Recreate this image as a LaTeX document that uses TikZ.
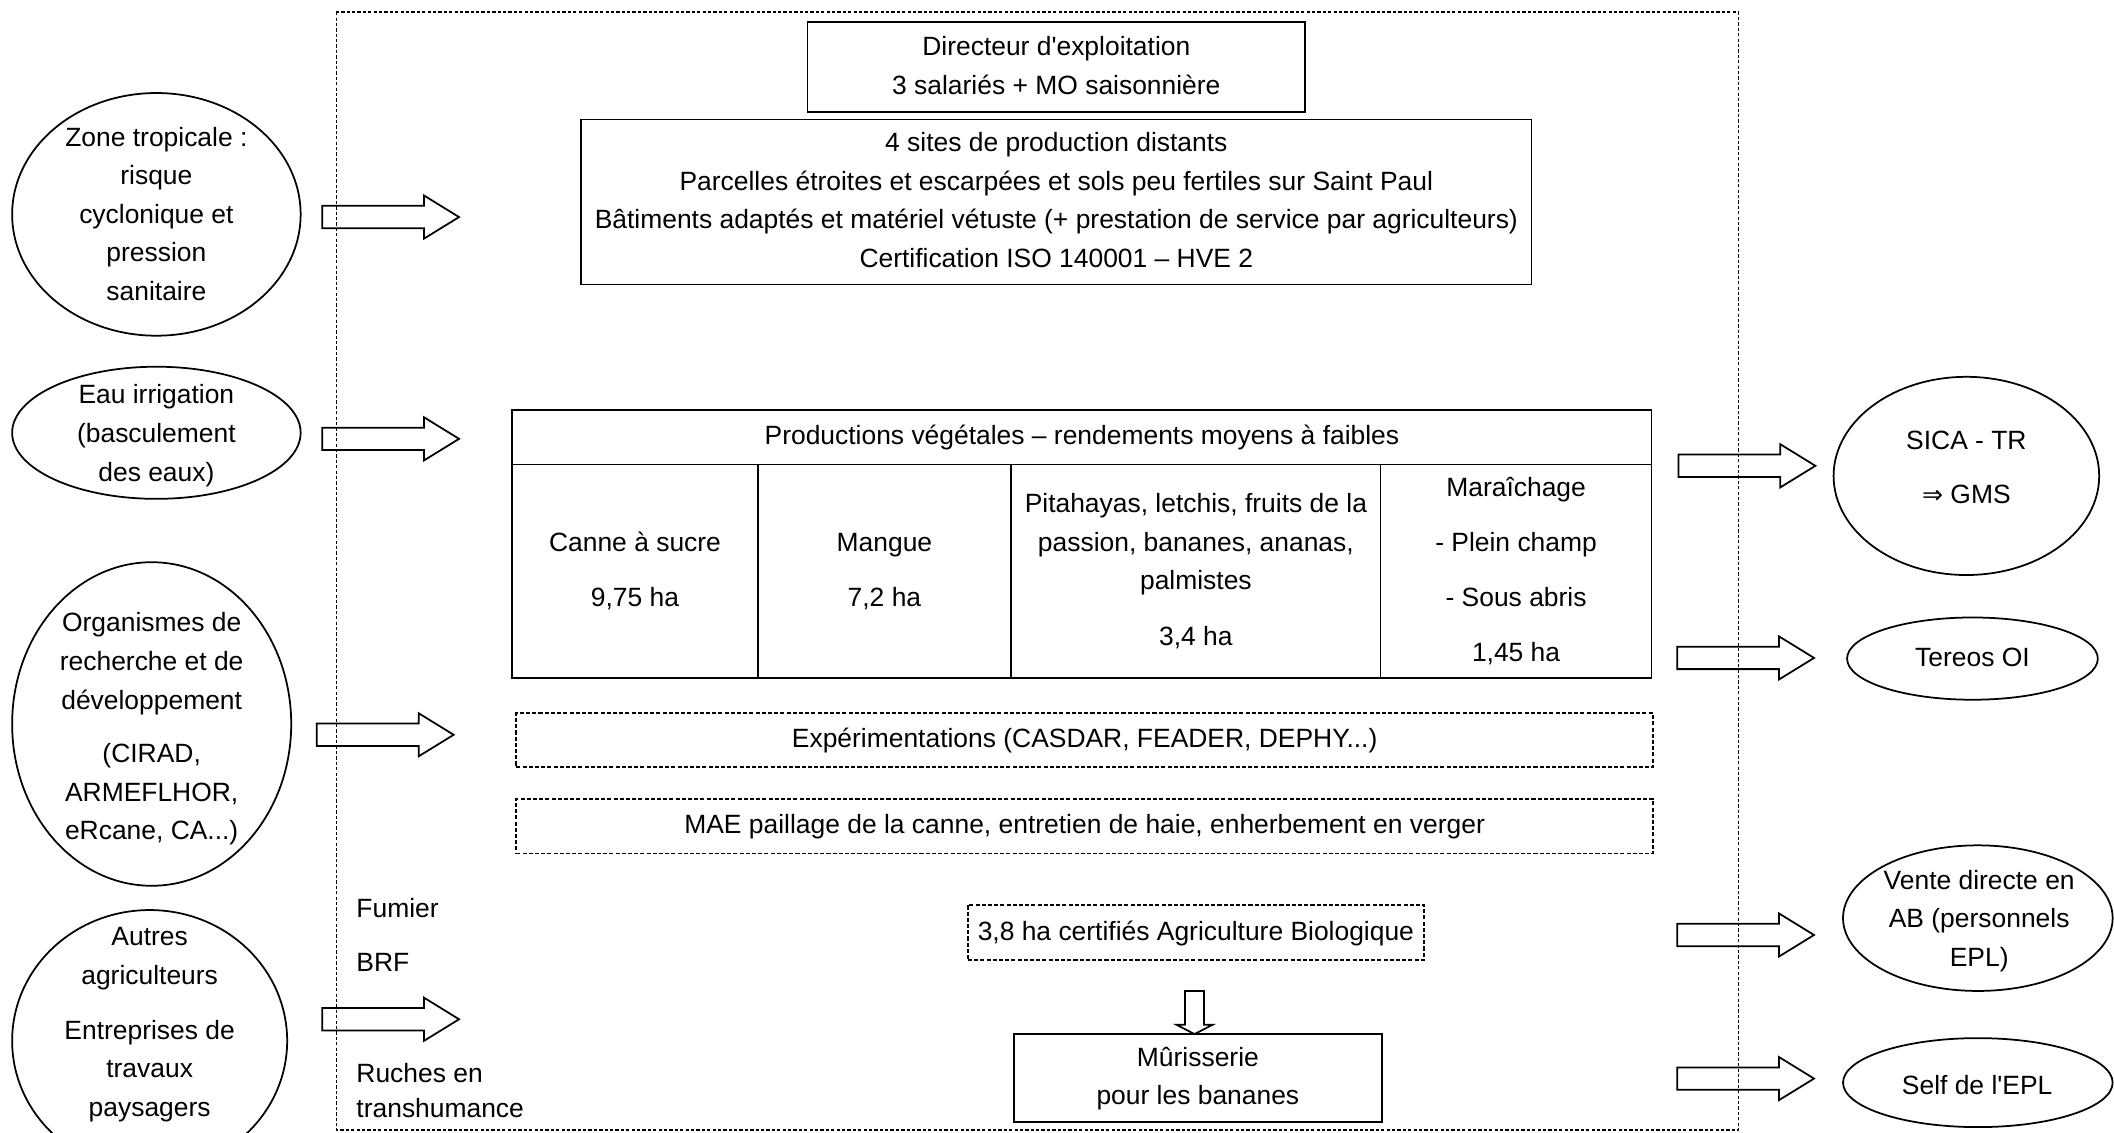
\documentclass[tikz,border=0pt]{standalone}
\usepackage{fontspec}
\setmainfont{Liberation Sans}
\newfontfamily\symfont{DejaVu Sans}[Scale=0.95]
\usetikzlibrary{shapes.geometric}
\newcommand\myfont{\fontsize{9.8}{14.3}\selectfont}
\tikzset{
  sz/.style 2 args={minimum width=#1*0.5pt, minimum height=#2*0.5pt},
  box/.style={draw, line width=0.65pt, rectangle, inner sep=0pt, align=center, font=\myfont},
  dbox/.style={box, dash pattern=on 1.5pt off 0.8pt},
  ell/.style={draw, ellipse, line width=0.65pt, inner sep=0pt},
  txt/.style={inner sep=0pt, align=center, font=\myfont},
  ltxt/.style={inner sep=0pt, anchor=west, font=\myfont},
  frame/.style={line width=0.55pt, dash pattern=on 1.2pt off 0.8pt},
  barrow/.pic={\draw[line width=0.65pt] (0,-8.3) -- (75.5,-8.3) -- (75.5,-16) -- (101.5,0) -- (75.5,16) -- (75.5,8.3) -- (0,8.3) -- cycle;},
  darrow/.pic={\draw[line width=0.65pt] (-7,0) -- (7,0) -- (7,25) -- (13.5,25) -- (0,32) -- (-13.5,25) -- (-7,25) -- cycle;}
}
\begin{document}
\begin{tikzpicture}[x=0.5pt,y=-0.5pt]
\useasboundingbox (0,0) rectangle (1568,840);
\clip (0,0) rectangle (1568,840);
\fill[white] (0,0) rectangle (1568,840);

% outer frame
\draw[frame] (249.5,9) rectangle (1289.5,838);

% top boxes
\node[box, sz={369}{66.5}] (dir) at (783.5,49.75)
  {\strut Directeur d\textquotesingle exploitation\\ 3 salariés + MO saisonnière\strut};
\node[box, sz={705}{122.4}] (sites) at (783.5,149.8)
  {\strut 4 sites de production distants\\
   Parcelles étroites et escarpées et sols peu fertiles sur Saint Paul\\
   Bâtiments adaptés et matériel vétuste (+ prestation de service par agriculteurs)\\
   Certification ISO 140001 – HVE 2\strut};

% table
\node[box, sz={845}{40.5}] (head) at (802.5,324.25)
  {\strut Productions végétales – rendements moyens à faibles\strut};
\node[box, sz={182}{158.5}] (c1) at (471,423.75)
  {\strut Canne à sucre\\[5.9pt] 9,75 ha\strut};
\node[box, sz={188}{158.5}] (c2) at (656,423.75)
  {\strut Mangue\\[5.9pt] 7,2 ha\strut};
\node[box, sz={274}{158.5}] (c3) at (887,423.75)
  {\strut Pitahayas, letchis, fruits de la\\ passion, bananes, ananas,\\ palmistes\\[6.4pt] 3,4 ha\strut};
\node[box, sz={201}{158.5}] (c4) at (1124.5,423.75)
  {\strut Maraîchage\\[6pt] - Plein champ\\[6pt] - Sous abris\\[6pt] 1,45 ha\strut};

% dashed boxes
\node[dbox, sz={843}{40}] (exp) at (804.5,549)
  {\strut Expérimentations (CASDAR, FEADER, DEPHY...)\strut};
\node[dbox, sz={843}{40.5}] (mae) at (804.5,612.75)
  {\strut MAE paillage de la canne, entretien de haie, enherbement en verger\strut};
\node[dbox, sz={338}{41}] (bio) at (887,691.5)
  {\strut 3,8 ha certifiés Agriculture Biologique\strut};
\node[box, sz={273}{65}] (mur) at (888.5,799.5)
  {\strut Mûrisserie\\ pour les bananes\strut};
\pic at (886,735) {darrow};

% left inputs text
\node[ltxt] (fum) at (264,675) {\strut Fumier};
\node[ltxt] (brf) at (264,714.6) {\strut BRF};
\node[ltxt] (ruc) at (264,797.5) {\strut Ruches en};
\node[ltxt] (tra) at (264,823) {\strut transhumance};

% left ellipses
\node[ell, sz={214}{180}] (zone) at (116,159) {};
\node[txt] (zonet) at (116,160)
  {\strut Zone tropicale :\\ risque\\ cyclonique et\\ pression\\ sanitaire\strut};
\node[ell, sz={214}{98}] (eau) at (116,321) {};
\node[txt] (eaut) at (116,322.5)
  {\strut Eau irrigation\\ (basculement\\ des eaux)\strut};
\node[ell, sz={207}{240}] (org) at (112.5,537) {};
\node[txt] (orgt) at (112.5,540)
  {\strut Organismes de\\ recherche et de\\ développement\\[5.5pt] (CIRAD,\\ ARMEFLHOR,\\ eRcane, CA...)\strut};
\node[ell, sz={204}{194}] (autres) at (111,772) {};
\node[txt] (autrest) at (111,759)
  {\strut Autres\\ agriculteurs\\[6pt] Entreprises de\\ travaux\\ paysagers\strut};

% left block arrows
\pic at (239,161) {barrow};
\pic at (239,325.5) {barrow};
\pic at (235,545) {barrow};
\pic at (239,756) {barrow};

% right ellipses
\node[ell, sz={197}{147}] (sica) at (1458.5,353) {};
\node[txt] (sicat) at (1458.5,347.5)
  {\strut SICA - TR\\[5.6pt] {\symfont ⇒} GMS\strut};
\node[ell, sz={186}{61}] (tereos) at (1463,488.5) {};
\node[txt] (tereost) at (1463,489) {\strut Tereos OI\strut};
\node[ell, sz={200}{108}] (vente) at (1467,681) {};
\node[txt] (ventet) at (1468,682.5)
  {\strut Vente directe en\\ AB (personnels\\ EPL)\strut};
\node[ell, sz={200}{66}] (self) at (1467,803) {};
\node[txt] (selft) at (1466.5,806) {\strut Self de l\textquotesingle EPL\strut};

% right block arrows
\pic at (1245,345.5) {barrow};
\pic at (1244,488) {barrow};
\pic at (1244,693.5) {barrow};
\pic at (1244,800) {barrow};
\end{tikzpicture}
\end{document}
